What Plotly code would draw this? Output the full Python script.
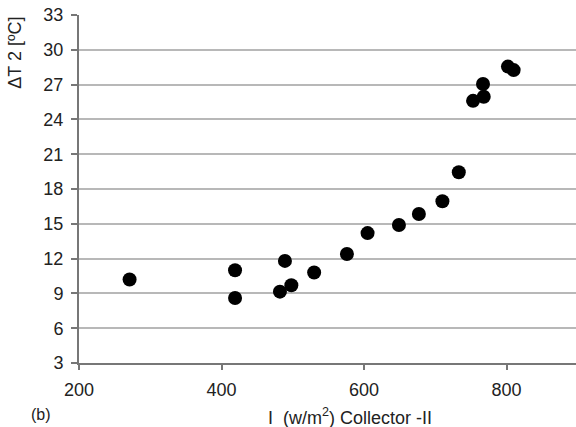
import plotly.graph_objects as go

# Irradiance (W/m2) and temperature rise for collector II
irradiance = [271, 419, 419, 482, 489, 498, 530, 576, 605, 649, 677, 710,
              733, 753, 767, 768, 802, 810]
delta_t = [10.2, 11.0, 8.6, 9.15, 11.8, 9.7, 10.8, 12.4, 14.2, 14.9, 15.85, 16.95,
           19.45, 25.6, 27.05, 25.95, 28.55, 28.25]

x_ticks = [200, 400, 600, 800]
y_ticks = [3, 6, 9, 12, 15, 18, 21, 24, 27, 30, 33]

FONT = "Arial, Liberation Sans, sans-serif"

fig = go.Figure(
    go.Scatter(
        x=irradiance,
        y=delta_t,
        mode="markers",
        marker=dict(size=14, color="black"),
        showlegend=False,
    )
)

fig.update_xaxes(
    range=[200, 897.5],
    tickvals=x_ticks,
    ticks="outside",
    ticklen=5,
    tickwidth=1.5,
    tickcolor="#777777",
    showline=True,
    linecolor="#777777",
    linewidth=2,
    showgrid=False,
    zeroline=False,
    ticklabelstandoff=4,
    tickfont=dict(family=FONT, size=18, color="#222222"),
)
fig.update_yaxes(
    range=[3, 33],
    tickvals=y_ticks,
    ticks="outside",
    ticklen=6,
    tickwidth=1.5,
    tickcolor="#777777",
    showline=True,
    linecolor="#777777",
    linewidth=2,
    showgrid=True,
    gridcolor="#b8b8b8",
    gridwidth=2,
    zeroline=False,
    ticklabelstandoff=4,
    tickfont=dict(family=FONT, size=18, color="#222222"),
)

fig.add_annotation(
    text="ΔT 2 [ºC]", textangle=-90,
    xref="paper", yref="paper", x=-0.129, y=0.891,
    xanchor="center", yanchor="middle", showarrow=False,
    font=dict(family=FONT, size=18, color="#222222"),
)
fig.add_annotation(
    text="I  (w/m<sup>2</sup>) Collector -II",
    xref="paper", yref="paper", x=0.545, y=-0.154,
    xanchor="center", yanchor="middle", showarrow=False,
    font=dict(family=FONT, size=18, color="#222222"),
)
fig.add_annotation(
    text="(b)",
    xref="paper", yref="paper", x=-0.077, y=-0.149,
    xanchor="center", yanchor="middle", showarrow=False,
    font=dict(family=FONT, size=16, color="#222222"),
)

fig.update_layout(
    width=576,
    height=427,
    margin=dict(l=79, r=0, t=15, b=64),
    plot_bgcolor="white",
    paper_bgcolor="white",
)

fig.write_html("out.html")
